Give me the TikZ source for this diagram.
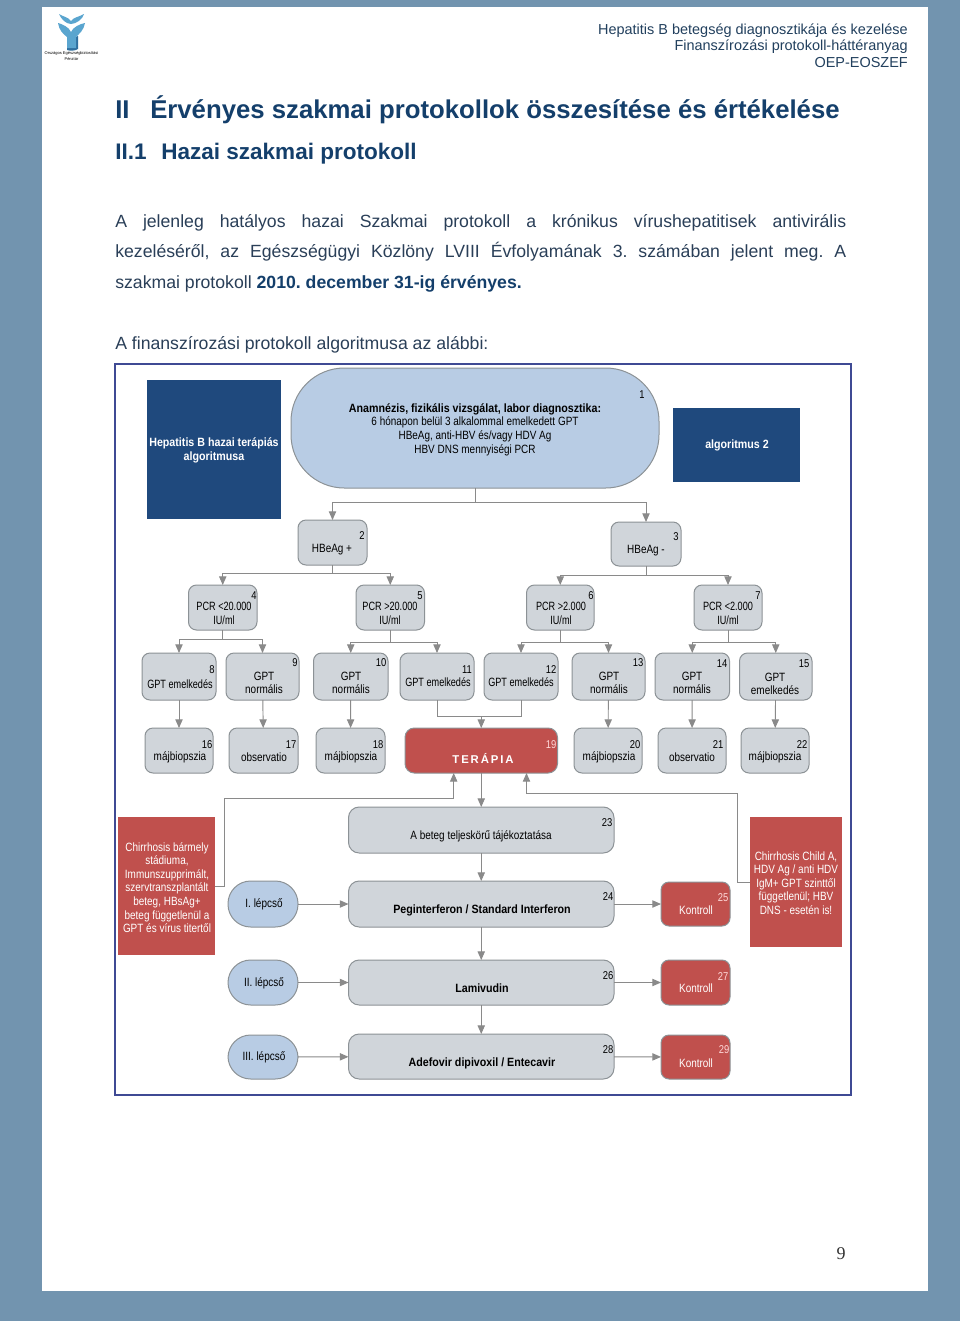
\documentclass[tikz,border=0pt]{standalone}
\usepackage{fontspec}
\usetikzlibrary{arrows.meta,calc}
\setmainfont{Liberation Sans}
\newfontfamily\diag[FakeStretch=0.83]{Liberation Sans}
\newfontfamily\diagn[FakeStretch=0.76]{Liberation Sans}
\newfontfamily\diagb[FakeStretch=0.89]{Liberation Sans}
\newfontfamily\serifn{Liberation Serif}
\frenchspacing
\definecolor{pagebg}{HTML}{7294AF}
\definecolor{headblue}{HTML}{143F6B}
\definecolor{hdtxt}{HTML}{22405E}
\definecolor{bodytxt}{HTML}{2A3F58}
\definecolor{frameblue}{HTML}{3F4A94}
\definecolor{navy}{HTML}{1F497D}
\definecolor{lightblue}{HTML}{B8CCE4}
\definecolor{boxgrey}{HTML}{D0D5DA}
\definecolor{edgegrey}{HTML}{8C9296}
\definecolor{redbox}{HTML}{C0504D}
\definecolor{arrowgrey}{HTML}{8A8A8A}
\definecolor{logoblue}{HTML}{5AA5CF}
\definecolor{logodark}{HTML}{2F6F9F}
\newcommand{\fs}[2]{\fontsize{#1}{#2}\selectfont}
% \bx{name}{x0}{y0}{x1}{y1}{style}
\newcommand{\bx}[6]{\node[#6,minimum width={(#4-#2)*0.75pt},minimum height={(#5-#3)*0.75pt}] (#1) at ({(#2+#4)/2},{(#3+#5)/2}) {};}
% \lb{name}{x}{y}{style}{text}
\newcommand{\lb}[5]{\node[#4] (#1) at (#2,#3) {#5};}
\tikzset{
  x=0.75pt,y=-0.75pt,
  base/.style={inner sep=0pt,outer sep=0pt,line width=0.75pt},
  greybox/.style={base,draw=edgegrey,fill=boxgrey,rounded corners=6pt},
  widebox/.style={base,draw=edgegrey,fill=boxgrey,rounded corners=8pt},
  bluepill/.style={base,draw=edgegrey,fill=lightblue,rounded corners=17pt},
  bigpill/.style={base,draw=edgegrey,fill=lightblue,rounded corners=40pt},
  redround/.style={base,draw=edgegrey,fill=redbox,rounded corners=6pt},
  redwide/.style={base,draw=edgegrey,fill=redbox,rounded corners=7pt},
  redsq/.style={base,fill=redbox},
  navysq/.style={base,fill=navy},
  lab/.style={inner sep=0pt,font=\diag\fs{9}{10.2},text=black,align=center},
  nlab/.style={lab,font=\diagn\fs{9}{10.2}},
  blab/.style={lab,font=\diagb\bfseries\fs{9}{10.2}},
  wlab/.style={lab,text=white},
  wblab/.style={blab,text=white},
  num/.style={inner sep=0pt,font=\diag\fs{8.5}{10},text=black},
  link/.style={draw=arrowgrey,line width=0.7pt},
  arr/.style={link,-{Triangle[length=6.5pt,width=5.5pt]}},
  hd/.style={inner sep=0pt,anchor=base east,text=hdtxt,font=\fs{10.85}{13}},
  body/.style={inner sep=0pt,anchor=base west,text=bodytxt,font=\fs{13.25}{16}},
  h1/.style={inner sep=0pt,anchor=base west,text=headblue,font=\bfseries\fs{19.3}{22}},
  h2/.style={inner sep=0pt,anchor=base west,text=headblue,font=\bfseries\fs{16.9}{20}},
}
\begin{document}
\begin{tikzpicture}
\useasboundingbox (0,0) rectangle (960,1321);
\fill[pagebg] (0,0) rectangle (960,1321);
\fill[white] (42,7) rectangle (928,1291);
% logo
\fill[logodark] (68,40) -- (78,36) -- (78,49) .. controls (75,51) and (70,51) .. (67,50) -- cycle;
\fill[logoblue] (59,14) .. controls (64,17) and (68,17) .. (71,21) .. controls (74,17) and (79,17) .. (84,14) .. controls (83,19) and (76,24) .. (71,24) .. controls (66,24) and (61,19) .. (59,14) -- cycle;
\fill[logoblue] (58,23) .. controls (62,24) and (69,27) .. (71,32) .. controls (73,27) and (80,24) .. (85,23) .. controls (84,30) and (79,34) .. (76,37) -- (76,48) -- (67,48) -- (67,37) .. controls (63,34) and (59,30) .. (58,23) -- cycle;
\node[inner sep=0pt,align=center,font=\fs{3}{4.2},text=black] (logot) at (71.5,56) {Országos Egészségbiztosítási\\Pénztár};
% header
\node[hd] (hd1) at (908,34) {Hepatitis B betegség diagnosztikája és kezelése};
\node[hd] (hd2) at (908,50.5) {Finanszírozási protokoll-háttéranyag};
\node[hd] (hd3) at (908,67) {OEP-EOSZEF};
% headings
\node[h1] (t1a) at (115,118) {II};
\node[h1] (t1b) at (150,118) {Érvényes szakmai protokollok összesítése és értékelése};
\node[h2] (t2a) at (115,159) {II.1};
\node[h2] (t2b) at (161,159) {Hazai szakmai protokoll};
% body
\node[body] (b1) at (115,227) {\hbox to 548.25pt{A jelenleg hatályos hazai Szakmai protokoll a krónikus vírushepatitisek antivirális}};
\node[body] (b2) at (115,257) {\hbox to 548.25pt{kezeléséről, az Egészségügyi Közlöny LVIII Évfolyamának 3. számában jelent meg. A}};
\node[body] (b3) at (115,288) {szakmai protokoll \textcolor{headblue}{\bfseries 2010. december 31-ig érvényes.}};
\node[body] (b4) at (115,349) {A finanszírozási protokoll algoritmusa az alábbi:};
\node[inner sep=0pt,font=\serifn\fs{13.5}{16},text=black!80] (pg) at (841,1254) {9};
% frame
\draw[frameblue,line width=1.5pt] (115,364) rectangle (851,1095);
% boxes
\bx{nL}{147}{380}{281}{519}{navysq}
\bx{n1}{291}{368}{659}{488}{bigpill}
\bx{nR}{673}{408}{800}{482}{navysq}
\bx{n2}{298}{520}{367}{565}{greybox}
\bx{n3}{611}{522}{681}{566}{greybox}
\bx{n4}{188.5}{585}{257}{630}{greybox}
\bx{n5}{356}{585}{424.5}{630}{greybox}
\bx{n6}{526.5}{585}{594}{630}{greybox}
\bx{n7}{694}{585}{762}{630}{greybox}
\bx{n8}{142}{653}{216}{700}{greybox}
\bx{n9}{226}{653}{299}{700}{greybox}
\bx{n10}{313.5}{653}{388}{700}{greybox}
\bx{n11}{400}{653}{474}{700}{greybox}
\bx{n12}{484}{653}{558}{700}{greybox}
\bx{n13}{572}{653}{645}{700}{greybox}
\bx{n14}{655}{653}{729.5}{700}{greybox}
\bx{n15}{739.5}{653}{812}{700}{greybox}
\bx{n16}{145}{728}{213}{773}{greybox}
\bx{n17}{229}{728}{298}{773}{greybox}
\bx{n18}{316}{728}{385}{773}{greybox}
\bx{n19}{405}{728}{557.5}{773}{redwide}
\bx{n20}{574}{728}{642}{773}{greybox}
\bx{n21}{658}{728}{726}{773}{greybox}
\bx{n22}{741}{728}{809}{773}{greybox}
\bx{nLR}{118}{817}{214.5}{955}{redsq}
\bx{nRR}{749.5}{817}{842}{947}{redsq}
\bx{n23}{348.5}{807}{614}{853}{widebox}
\bx{n24}{348.5}{881}{614}{927}{widebox}
\bx{n26}{348.5}{960}{614}{1005}{widebox}
\bx{n28}{348.5}{1034}{614}{1079}{widebox}
\bx{n25}{661}{882}{730}{926}{redround}
\bx{n27}{661}{960}{730}{1005}{redround}
\bx{n29}{661}{1035}{730}{1079}{redround}
\bx{s1}{228}{881}{298}{927}{bluepill}
\bx{s2}{228}{960}{298}{1005}{bluepill}
\bx{s3}{228}{1035}{298}{1079}{bluepill}
% connectors
\coordinate (j1) at (475,502);
\draw[link] (n1.south) -- (j1);
\draw[arr] (j1) -| (n2.north);
\draw[arr] (j1) -| (n3.north);
\coordinate (j2) at (332.5,573);
\draw[link] (n2.south) -- (j2);
\draw[arr] (j2) -| (n4.north);
\draw[arr] (j2) -| (n5.north);
\coordinate (j3) at (646,575);
\draw[link] (n3.south) -- (j3);
\draw[arr] (j3) -| (n6.north);
\draw[arr] (j3) -| (n7.north);
\coordinate (j4) at (222.75,639);
\draw[link] (n4.south) -- (j4);
\draw[arr] (j4) -| (n8.north);
\draw[arr] (j4) -| (n9.north);
\coordinate (j5) at (390.25,642);
\draw[link] (n5.south) -- (j5);
\draw[arr] (j5) -| (n10.north);
\draw[arr] (j5) -| (n11.north);
\coordinate (j6) at (560.25,642);
\draw[link] (n6.south) -- (j6);
\draw[arr] (j6) -| (n12.north);
\draw[arr] (j6) -| (n13.north);
\coordinate (j7) at (728,642);
\draw[link] (n7.south) -- (j7);
\draw[arr] (j7) -| (n14.north);
\draw[arr] (j7) -| (n15.north);
\draw[arr] (n8) -- (n16);
\draw[arr] (n9) -- (n17);
\draw[arr] (n10) -- (n18);
\draw[arr] (n13) -- (n20);
\draw[arr] (n14) -- (n21);
\draw[arr] (n15) -- (n22);
\coordinate (j19) at (481.25,716);
\draw[link] (n11.south) |- (j19);
\draw[link] (n12.south) |- (j19);
\draw[arr] (j19) -- (n19.north);
\draw[arr] (n19) -- (n23);
\draw[arr] (n23) -- (n24);
\draw[arr] (n24) -- (n26);
\draw[arr] (n26) -- (n28);
\coordinate (lr1) at (224.5,886);
\coordinate (lr2) at (224.5,798);
\coordinate (lr3) at (453.7,798);
\coordinate (lr4) at (453.7,773);
\draw[arr] (nLR.east |- lr1) -- (lr1) -- (lr2) -- (lr3) -- (lr4);
\coordinate (rr1) at (737,882);
\coordinate (rr2) at (737,793);
\coordinate (rr3) at (526.5,793);
\coordinate (rr4) at (526.5,773);
\draw[arr] (nRR.west |- rr1) -- (rr1) -- (rr2) -- (rr3) -- (rr4);
\draw[arr] (s1) -- (n24);
\draw[arr] (n24) -- (n25);
\draw[arr] (s2) -- (n26);
\draw[arr] (n26) -- (n27);
\draw[arr] (s3) -- (n28);
\draw[arr] (n28) -- (n29);
% labels
\lb{tL}{214}{450.5}{wblab}{Hepatitis B hazai terápiás\\algoritmusa}
\lb{t1}{475}{429.5}{lab}{{\diagb\bfseries Anamnézis, fizikális vizsgálat, labor diagnosztika:}\\6 hónapon belül 3 alkalommal emelkedett GPT\\HBeAg, anti-HBV és/vagy HDV Ag\\HBV DNS mennyiségi PCR}
\lb{tR}{737}{445.5}{wblab}{algoritmus 2}
\lb{t2}{332}{549.5}{lab}{HBeAg +}
\lb{t3}{646}{550.5}{lab}{HBeAg -}
\lb{t4}{224}{613.5}{nlab}{PCR <20.000\\IU/ml}
\lb{t5}{390}{613.5}{nlab}{PCR >20.000\\IU/ml}
\lb{t6}{561}{613.5}{nlab}{PCR >2.000\\IU/ml}
\lb{t7}{728}{613.5}{nlab}{PCR <2.000\\IU/ml}
\lb{t8}{180}{684}{nlab}{GPT emelkedés}
\lb{t9}{264}{683}{lab}{GPT\\normális}
\lb{t10}{351}{683}{lab}{GPT\\normális}
\lb{t11}{438}{682}{nlab}{GPT emelkedés}
\lb{t12}{521}{682}{nlab}{GPT emelkedés}
\lb{t13}{609}{683}{lab}{GPT\\normális}
\lb{t14}{692}{683}{lab}{GPT\\normális}
\lb{t15}{775}{684}{lab}{GPT\\emelkedés}
\lb{t16}{180}{757.5}{lab}{májbiopszia}
\lb{t17}{264}{757.5}{lab}{observatio}
\lb{t18}{351}{757.5}{lab}{májbiopszia}
\lb{t19}{483}{758}{lab,text=white,font=\bfseries\fs{8.5}{10}}{T\,E\,R\,Á\,P\,I\,A}
\lb{t20}{609}{757.5}{lab}{májbiopszia}
\lb{t21}{692}{757.5}{lab}{observatio}
\lb{t22}{775}{757.5}{lab}{májbiopszia}
\lb{t23}{481}{836}{lab}{A beteg teljeskörű tájékoztatása}
\lb{t24}{482}{910.5}{blab}{Peginterferon / Standard Interferon}
\lb{t25}{696}{910}{wlab}{Kontroll}
\lb{t26}{482}{988.5}{blab}{Lamivudin}
\lb{t27}{696}{988.5}{wlab}{Kontroll}
\lb{t28}{482}{1063.5}{blab}{Adefovir dipivoxil / Entecavir}
\lb{t29}{696}{1063.5}{wlab}{Kontroll}
\lb{ts1}{264}{904.5}{lab}{I. lépcső}
\lb{ts2}{264}{983.5}{lab}{II. lépcső}
\lb{ts3}{264}{1057.5}{lab}{III. lépcső}
\lb{tLR}{167}{887.5}{wlab}{Chirrhosis bármely\\stádiuma,\\Immunszupprimált,\\szervtranszplantált\\beteg, HBsAg+\\beteg függetlenül a\\GPT és vírus titertől}
\lb{tRR}{796}{883}{wlab}{Chirrhosis Child A,\\HDV Ag / anti HDV\\IgM+ GPT szinttől\\függetlenül; HBV\\DNS - esetén is!}
% numbers
\lb{m1}{642}{395}{num}{1}
\lb{m2}{362}{536}{num}{2}
\lb{m3}{676}{537}{num}{3}
\lb{m4}{254}{596}{num}{4}
\lb{m5}{420}{596}{num}{5}
\lb{m6}{591}{596}{num}{6}
\lb{m7}{758}{596}{num}{7}
\lb{m8}{212}{670}{num}{8}
\lb{m9}{295}{663}{num}{9}
\lb{m10}{381}{663}{num}{10}
\lb{m11}{467}{670}{num}{11}
\lb{m12}{551}{670}{num}{12}
\lb{m13}{638}{663}{num}{13}
\lb{m14}{722}{664}{num}{14}
\lb{m15}{804}{664}{num}{15}
\lb{m16}{207}{745}{num}{16}
\lb{m17}{291}{745}{num}{17}
\lb{m18}{378}{745}{num}{18}
\lb{m19}{551}{745}{num,text=white!85!red}{19}
\lb{m20}{635}{745}{num}{20}
\lb{m21}{718}{745}{num}{21}
\lb{m22}{802}{745}{num}{22}
\lb{m23}{607}{823}{num}{23}
\lb{m24}{608}{897}{num}{24}
\lb{m25}{723}{898}{num,text=white!85!red}{25}
\lb{m26}{608}{976}{num}{26}
\lb{m27}{723}{977}{num,text=white!85!red}{27}
\lb{m28}{608}{1050}{num}{28}
\lb{m29}{724}{1050}{num,text=white!85!red}{29}
\end{tikzpicture}
\end{document}
